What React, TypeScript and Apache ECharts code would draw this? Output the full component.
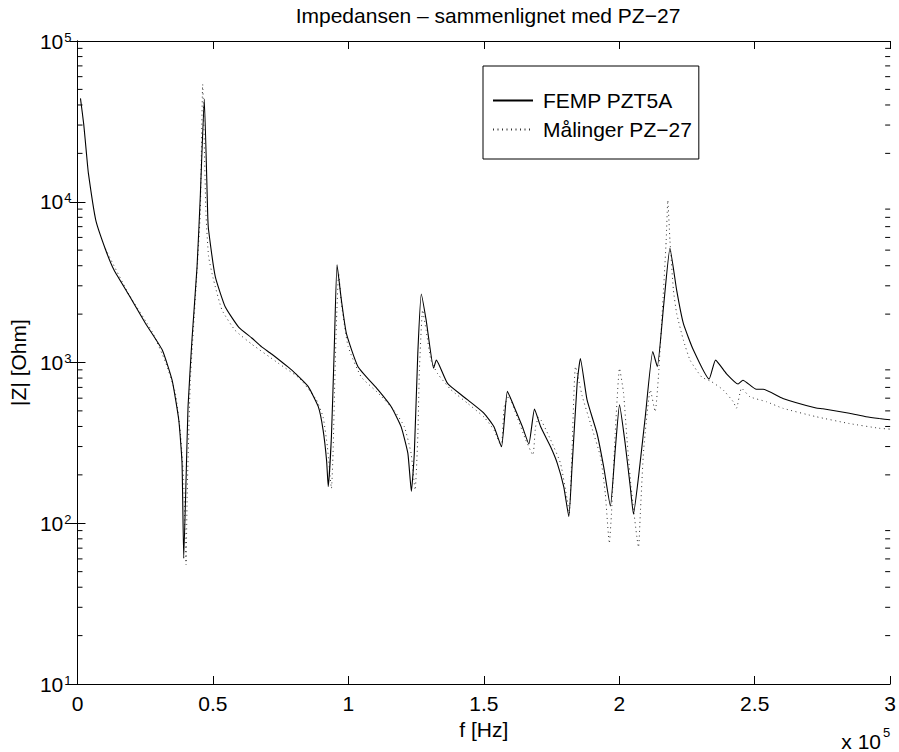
import React, { useEffect, useRef } from "react";
import * as echarts from "echarts";

// ---------- data ----------
const femFreq = [1100, 2319, 3309, 4032, 6745, 10409, 13488, 18984, 25123, 31262, 34926, 37401, 38590, 39223, 40075, 40808, 42253, 44135, 45323, 46808, 48095, 48392, 50868, 54532, 59483, 64335, 68000, 71662, 77802, 80277, 85129, 88891, 90674, 91961, 92555, 93744, 94734, 95823, 97408, 99289, 103547, 110973, 115825, 119489, 121964, 123252, 124341, 125628, 126915, 128697, 131470, 132460, 136619, 144045, 150085, 153749, 156522, 158700, 161176, 164246, 166622, 168702, 170979, 174643, 177119, 179495, 181377, 182565, 184446, 185634, 188110, 191774, 194249, 196725, 198507, 200091, 202171, 204052, 205240, 207122, 209597, 212370, 214053, 216331, 218707, 221183, 223658, 227322, 233165, 235540, 239600, 243858, 245640, 250594, 253070, 260397, 272675, 275151, 284954, 291093, 295940, 300000];
const femZ = [44000, 30200, 20000, 15000, 7690, 5010, 3760, 2630, 1750, 1200, 776, 437, 237, 60.5, 186, 531, 1380, 3940, 10700, 43600, 8070, 6670, 3420, 2220, 1660, 1420, 1250, 1130, 935, 860, 710, 531, 380, 245, 169, 347, 1140, 4050, 2450, 1510, 942, 676, 531, 398, 272, 158, 272, 1140, 2670, 1840, 920, 1035, 741, 585, 483, 398, 299, 661, 531, 398, 311, 513, 398, 299, 236, 169, 110, 224, 741, 1060, 585, 363, 224, 128, 286, 545, 314, 169, 114, 195, 460, 1170, 942, 2220, 5130, 2820, 1750, 1200, 789, 1035, 851, 735, 776, 681, 681, 598, 521, 516, 483, 460, 448, 440];

const measFreq = [10270, 18984, 27599, 32450, 36114, 37996, 39184, 40075, 40471, 41659, 43541, 45323, 46214, 47402, 48392, 50274, 53344, 58196, 64335, 74138, 82060, 88199, 90674, 92259, 93744, 94338, 94932, 95625, 96417, 97408, 99883, 104735, 110973, 117008, 120677, 123153, 124638, 125628, 126222, 127411, 128697, 130480, 132955, 137906, 144045, 150085, 153749, 156424, 157513, 159295, 161771, 165435, 168108, 169098, 170287, 174643, 178307, 180783, 181575, 182565, 183852, 186327, 189397, 193061, 194843, 196329, 197121, 198507, 200091, 201577, 202864, 204349, 207122, 207716, 209003, 211478, 213260, 214449, 216331, 217321, 217915, 218707, 219994, 221183, 223658, 226134, 230392, 234055, 238313, 242076, 243264, 245145, 248215, 254354, 260397, 272675, 284954, 295940, 300000];
const measZ = [5100, 2650, 1550, 1010, 646, 363, 186, 55, 146, 776, 2570, 8510, 53700, 8700, 4570, 3240, 2120, 1585, 1300, 990, 794, 585, 457, 299, 165, 272, 708, 1840, 3590, 2340, 1260, 813, 646, 501, 398, 272, 161, 347, 897, 2120, 1585, 1035, 851, 676, 557, 457, 380, 300, 531, 617, 483, 331, 266, 398, 457, 331, 236, 140, 115, 286, 942, 617, 417, 259, 153, 75, 115, 363, 920, 646, 331, 169, 71, 110, 286, 676, 494, 813, 2820, 5750, 10200, 5750, 2820, 2020, 1380, 1035, 813, 760, 676, 570, 519, 692, 612, 570, 519, 460, 417, 390, 385];

const minorTickValues = [20, 30, 40, 50, 60, 70, 80, 90, 200, 300, 400, 500, 600, 700, 800, 900, 2000, 3000, 4000, 5000, 6000, 7000, 8000, 9000, 20000, 30000, 40000, 50000, 60000, 70000, 80000, 90000];

const seriesNames = ["FEMP PZT5A", "Målinger PZ\u221227"];
const titleText = "Impedansen \u2013 sammenlignet med PZ\u221227";
const xName = "f [Hz]";
const yName = "|Z| [Ohm]";
const xMultiplier = ["x 10", "5"];

const FONT = "'Liberation Sans', Arial, Helvetica, sans-serif";
const FS = 21;

export default function App() {
  const ref = useRef<HTMLDivElement>(null);
  useEffect(() => {
    if (!ref.current) return;
    const chart = echarts.init(ref.current, undefined, { renderer: "svg" });
    const femData = femFreq.map((f, i) => [f, femZ[i]]);
    const measData = measFreq.map((f, i) => [f, measZ[i]]);
    const axisLine = { show: true, lineStyle: { color: "#000", width: 1 } };
    const tick = { show: true, inside: true, length: 8, lineStyle: { color: "#000", width: 1 } };
    const option: any = {
      animation: false,
      backgroundColor: "#fff",
      textStyle: { fontFamily: FONT },
      title: {
        text: titleText,
        left: 483,
        top: 0,
        textAlign: "center",
        textStyle: { fontSize: FS, fontWeight: "normal", color: "#000", fontFamily: FONT },
      },
      grid: { left: 75, right: 8, top: 41, bottom: 68, containLabel: false },
      legend: {
        orient: "vertical",
        left: 483,
        top: 66,
        padding: [24, 7, 19, 9],
        itemGap: 8,
        itemWidth: 40,
        itemHeight: 14,
        borderColor: "#000",
        borderWidth: 1,
        borderRadius: 0,
        backgroundColor: "#fff",
        itemStyle: { opacity: 0 },
        lineStyle: { opacity: 1 },
        data: seriesNames,
        textStyle: { fontSize: FS, color: "#000", fontFamily: FONT, padding: [0, 0, 0, 5] },
      },
      xAxis: [
        {
          type: "value",
          min: 0,
          max: 300000,
          interval: 50000,
          position: "bottom",
          axisLine,
          axisTick: tick,
          splitLine: { show: false },
          axisLabel: {
            color: "#000",
            fontSize: FS,
            fontFamily: FONT,
            margin: 9,
            formatter: (v: number) => String(v / 100000),
          },
          name: xName,
          nameLocation: "middle",
          nameGap: 25,
          nameTextStyle: { color: "#000", fontSize: FS, fontFamily: FONT },
        },
        {
          type: "value",
          min: 0,
          max: 300000,
          interval: 50000,
          position: "top",
          axisLine,
          axisTick: tick,
          splitLine: { show: false },
          axisLabel: { show: false },
        },
      ],
      yAxis: [
        {
          type: "log",
          logBase: 10,
          min: 10,
          max: 100000,
          position: "left",
          axisLine,
          axisTick: tick,
          splitLine: { show: false },
          axisLabel: {
            color: "#000",
            margin: 6,
            formatter: (v: number) => `{b|10}{s|${Math.round(Math.log10(v))}}`,
            rich: {
              b: { fontSize: FS, fontFamily: FONT, color: "#000", verticalAlign: "bottom" },
              s: { fontSize: 13, fontFamily: FONT, color: "#000", verticalAlign: "top", padding: [0, 0, 8, 1] },
            },
          },
          name: yName,
          nameLocation: "middle",
          nameGap: 39,
          nameRotate: 90,
          nameTextStyle: { color: "#000", fontSize: FS, fontFamily: FONT },
        },
        {
          type: "log",
          logBase: 10,
          min: 10,
          max: 100000,
          position: "right",
          axisLine,
          axisTick: tick,
          splitLine: { show: false },
          axisLabel: { show: false },
        },
      ],
      graphic: [
        {
          type: "text",
          x: 881,
          y: 741,
          style: { text: xMultiplier[0], fontSize: FS, fill: "#000", fontFamily: FONT, textAlign: "right", textVerticalAlign: "middle" },
        },
        {
          type: "text",
          x: 883,
          y: 732,
          style: { text: xMultiplier[1], fontSize: 13, fill: "#000", fontFamily: FONT, textAlign: "left", textVerticalAlign: "middle" },
        },
      ],
      series: [
        {
          name: seriesNames[0],
          type: "line",
          data: femData,
          showSymbol: false,
          symbol: "none",
          smooth: 0.15,
          lineStyle: { color: "#000", width: 1.1 },
          itemStyle: { color: "#000" },
          z: 3,
        },
        {
          name: seriesNames[1],
          type: "line",
          data: measData,
          showSymbol: false,
          symbol: "none",
          smooth: 0.15,
          lineStyle: { color: "#333", width: 1, type: [1, 3.5] },
          itemStyle: { color: "#333" },
          z: 2,
        },
        {
          name: "minorTicks",
          type: "custom",
          silent: true,
          clip: false,
          data: minorTickValues.map((v) => [0, v]),
          encode: { x: 0, y: 1 },
          renderItem: (params: any, api: any) => {
            const v = api.value(1);
            const l = api.coord([0, v]);
            const r = api.coord([300000, v]);
            const st = { stroke: "#000", lineWidth: 1 };
            return {
              type: "group",
              children: [
                { type: "line", shape: { x1: l[0], y1: l[1], x2: l[0] + 5, y2: l[1] }, style: st },
                { type: "line", shape: { x1: r[0] - 5, y1: r[1], x2: r[0], y2: r[1] }, style: st },
              ],
            };
          },
          z: 4,
        },
      ],
    };
    chart.setOption(option);
    return () => chart.dispose();
  }, []);
  return <div ref={ref} style={{ width: 899, height: 752, position: "absolute", left: 0, top: 0 }} />;
}
